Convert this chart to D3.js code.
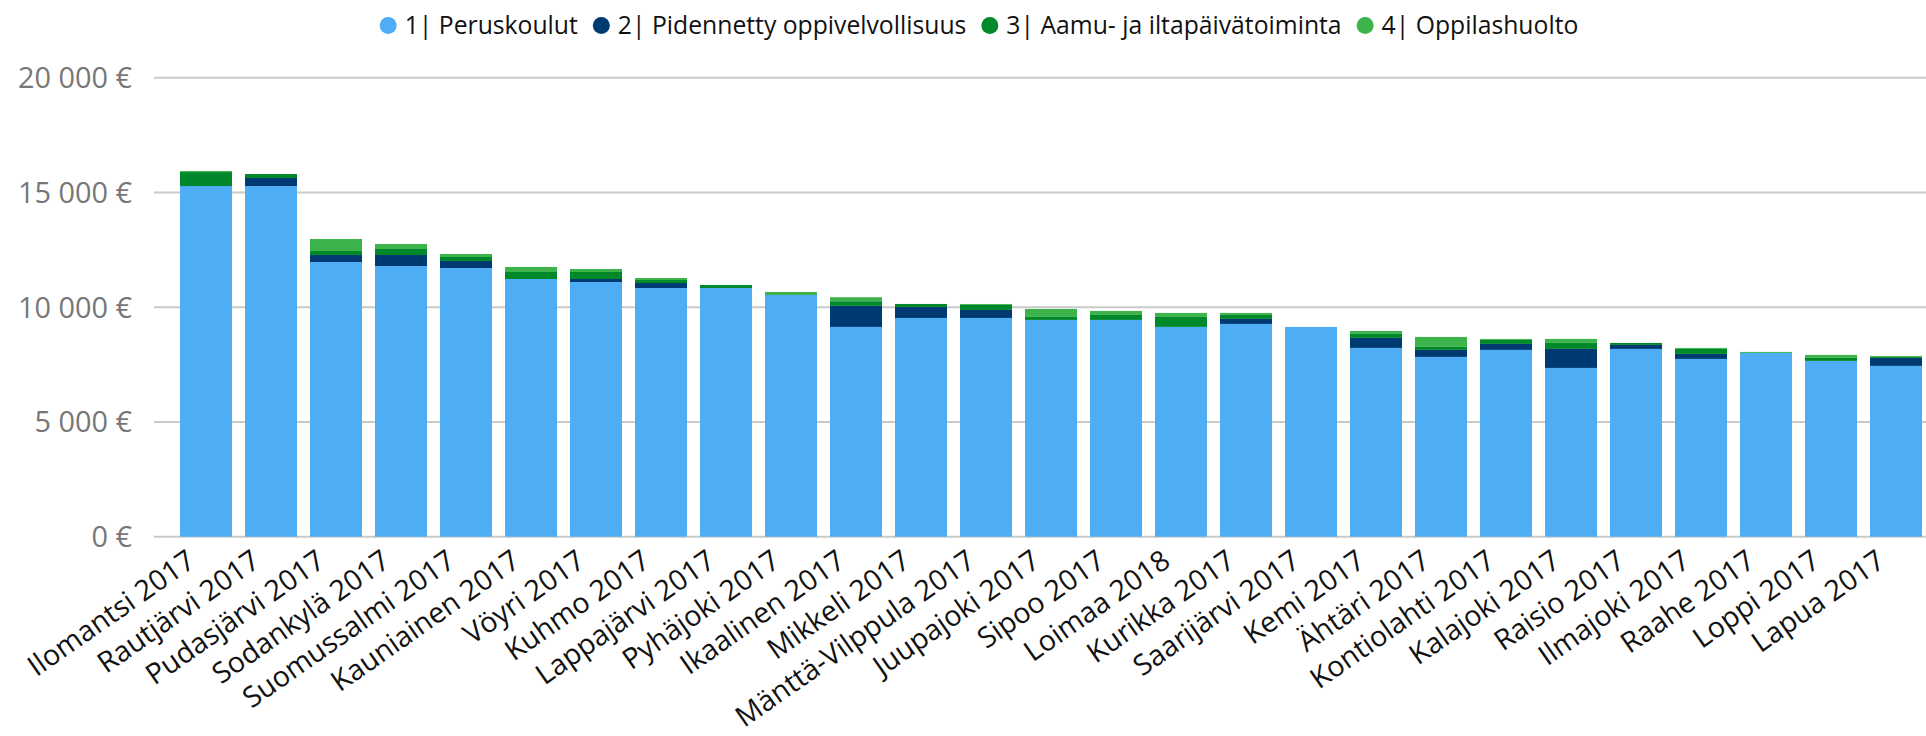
<!DOCTYPE html>
<html>
<head>
<meta charset="utf-8">
<script src="https://cdn.jsdelivr.net/npm/d3@7"></script>
<style>
  html, body { margin: 0; padding: 0; background: #ffffff; }
  svg { display: block; }
</style>
</head>
<body>
<svg id="chart" width="1926" height="736"></svg>
<script>
// ---------------- DATA ----------------
const categories = [
  "Ilomantsi 2017", "Rautjärvi 2017", "Pudasjärvi 2017", "Sodankylä 2017",
  "Suomussalmi 2017", "Kauniainen 2017", "Vöyri 2017", "Kuhmo 2017",
  "Lappajärvi 2017", "Pyhäjoki 2017", "Ikaalinen 2017", "Mikkeli 2017",
  "Mänttä-Vilppula 2017", "Juupajoki 2017", "Sipoo 2017", "Loimaa 2018",
  "Kurikka 2017", "Saarijärvi 2017", "Kemi 2017", "Ähtäri 2017",
  "Kontiolahti 2017", "Kalajoki 2017", "Raisio 2017", "Ilmajoki 2017",
  "Raahe 2017", "Loppi 2017", "Lapua 2017"
];
const seriesNames = [
  "1| Peruskoulut", "2| Pidennetty oppivelvollisuus",
  "3| Aamu- ja iltapäivätoiminta", "4| Oppilashuolto"
];
const peruskoulut = [15281, 15281, 11969, 11795, 11708, 11229, 11098, 10837, 10837, 10532,
  9141, 9532, 9532, 9445, 9445, 9141, 9271, 9141, 8226, 7834, 8139, 7354, 8182, 7747, 8008, 7660, 7443];
const pidennetty = [0, 349, 305, 479, 305, 0, 131, 218, 0, 0,
  916, 479, 348, 0, 0, 0, 218, 0, 435, 305, 261, 828, 174, 218, 0, 0, 348];
const aamuIlta = [608, 174, 174, 262, 174, 305, 305, 130, 131, 0,
  204, 130, 218, 131, 218, 435, 174, 0, 174, 130, 174, 261, 87, 217, 0, 131, 43];
const oppilashuolto = [43, 0, 523, 217, 131, 218, 131, 87, 0, 131,
  174, 0, 43, 348, 174, 174, 87, 0, 131, 436, 44, 175, 0, 44, 43, 131, 44];
const seriesColors = ["#4EADF4", "#003A73", "#00882B", "#3CB44B"];
const yTicks = [0, 5000, 10000, 15000, 20000];
const yTickLabels = ["0 €", "5 000 €", "10 000 €", "15 000 €", "20 000 €"];

// ---------------- SETUP ----------------
const FONT = "'Open Sans', 'Noto Sans', sans-serif";
const svg = d3.select("#chart");
const W = 1926;

function measure(text, size) {
  const t = svg.append("text").attr("font-family", FONT).attr("font-size", size).text(text);
  const w = t.node().getComputedTextLength();
  t.remove();
  return w;
}
function fitSize(text, target) { return 100 * target / measure(text, 100); }

const yLabelSize = fitSize("20 000 €", 114);
const xLabelSize = fitSize("Ilomantsi 2017", 196);

const rows = categories.map((c, i) => ({
  cat: c, s0: peruskoulut[i], s1: pidennetty[i], s2: aamuIlta[i], s3: oppilashuolto[i]
}));
const keys = ["s0", "s1", "s2", "s3"];
const stacked = d3.stack().keys(keys)(rows);

const x = d3.scaleBand().domain(categories).range([154, 1948]).paddingInner(0.2).paddingOuter(0.4);
const y = d3.scaleLinear().domain([0, 20000]).range([536.7, 77.7]);

// gridlines
svg.append("g").selectAll("line").data(yTicks).join("line")
  .attr("x1", 154).attr("x2", W)
  .attr("y1", d => y(d)).attr("y2", d => y(d))
  .attr("stroke", "#C8CBC8").attr("stroke-width", 2);

// y labels
svg.append("g").selectAll("text").data(yTicks).join("text")
  .attr("x", 132).attr("y", d => y(d)).attr("dy", "0.36em")
  .attr("text-anchor", "end")
  .attr("font-family", FONT).attr("font-size", yLabelSize)
  .attr("fill", "#777777")
  .text((d, i) => yTickLabels[i]);

// bars
svg.append("g").selectAll("g").data(stacked).join("g")
  .attr("fill", (d, i) => seriesColors[i])
  .selectAll("rect").data(d => d).join("rect")
  .attr("x", d => x(d.data.cat))
  .attr("width", x.bandwidth())
  .attr("y", d => y(d[1]))
  .attr("height", d => Math.max(0, y(d[0]) - y(d[1])));

// x labels
svg.append("g").selectAll("text").data(categories).join("text")
  .attr("text-anchor", "end")
  .attr("transform", d => `translate(${x(d) + x.bandwidth() / 2 - 9},565) rotate(-35)`)
  .attr("font-family", FONT).attr("font-size", xLabelSize)
  .attr("fill", "#111111")
  .text(d => d);

// legend
const lg = svg.append("g");
const R = 8.5, GAP_TXT = 8, GAP_ITEM = 15;
const fixed = seriesNames.length * (2 * R + GAP_TXT) + (seriesNames.length - 1) * GAP_ITEM;
const sum100 = d3.sum(seriesNames, n => measure(n, 100));
const legendSize = 100 * (1199 - fixed) / sum100;
const widths = seriesNames.map(n => measure(n, legendSize));
const total = d3.sum(widths) + fixed;
let lx = 979 - total / 2;
seriesNames.forEach((n, i) => {
  lg.append("circle").attr("cx", lx + R).attr("cy", 25.5).attr("r", R).attr("fill", seriesColors[i]);
  lg.append("text").attr("x", lx + 2 * R + GAP_TXT).attr("y", 34)
    .attr("font-family", FONT).attr("font-size", legendSize).attr("fill", "#111111").text(n);
  lx += 2 * R + GAP_TXT + widths[i] + GAP_ITEM;
});
</script>
</body>
</html>
